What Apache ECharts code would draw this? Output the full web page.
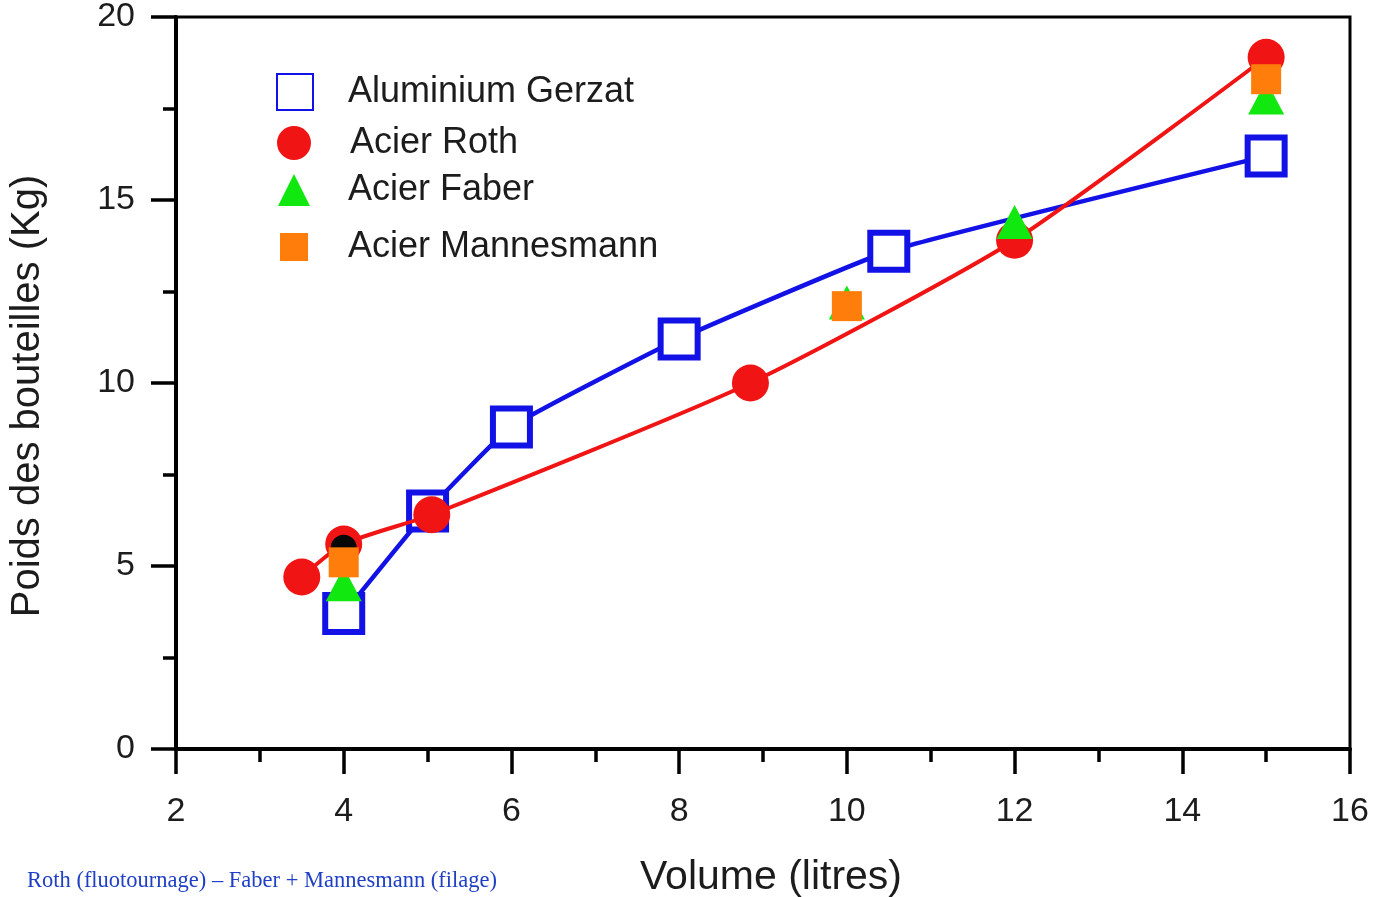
<!DOCTYPE html>
<html lang="fr">
<head>
<meta charset="utf-8">
<title>Poids des bouteilles</title>
<style>
    html, body { margin: 0; padding: 0; background: #fff; }
    #main { width: 1376px; height: 897px; }
</style>
</head>
<body>
<div id="main"></div>

<script src="https://cdn.jsdelivr.net/npm/echarts@6/dist/echarts.min.js"></script>
<script>
var seriesNames = ['Aluminium Gerzat', 'Acier Roth', 'Acier Faber', 'Acier Mannesmann'];
var aluGerzat = [[4, 3.7], [5, 6.5], [6, 8.8], [8, 11.2], [10.5, 13.6], [15, 16.2]];
var acierRoth = [[3.5, 4.7], [4, 5.6], [5.05, 6.4], [8.85, 10], [12, 13.9], [15, 18.9]];
var acierFaber = [[4, 4.5], [10, 12.2], [12, 14.4], [15, 17.8]];
var acierMannesmann = [[4, 5.1], [10, 12.1], [15, 18.3]];
var blackDot = [[4, 5.5]];

var xTicks = [2, 4, 6, 8, 10, 12, 14, 16];
var yTicks = [0, 5, 10, 15, 20];

var caption = 'Roth (fluotournage) \u2013 Faber + Mannesmann (filage)';

var myChart = echarts.init(document.getElementById('main'));

var BLUE = '#1212e6';
var RED = '#f01414';
var GREEN = '#10e810';
var ORANGE = '#ff7d0a';
var INK = '#1c1c1c';
var SANS = 'Liberation Sans, Arial, sans-serif';

// one legend per entry so each line sits where the picture has it
var legendIcons = ['rect', 'circle', 'triangle', 'rect'];
var legendSizes = [36, 34, 32, 28];
var legendCenters = [91, 142, 188, 243];
var legendTextShift = [30, 33, 31, 31];
var legends = seriesNames.map(function (name, i) {
    var s = legendSizes[i];
    return {
        data: [{ name: name, icon: legendIcons[i] }],
        left: 294 - s / 2,
        top: legendCenters[i] - s / 2,
        padding: 0,
        itemWidth: s,
        itemHeight: s,
        selectedMode: false,
        textStyle: {
            fontFamily: SANS, fontSize: 36, color: INK,
            padding: [0, 0, 0, legendTextShift[i] + (36 - s) / 2]
        }
    };
});

var axisCommon = {
    type: 'value',
    axisLine: { show: true, onZero: false, lineStyle: { color: '#000', width: 4 } },
    axisTick: { show: true, inside: false, length: 25, lineStyle: { color: '#000', width: 3.5 } },
    minorTick: { show: true, splitNumber: 2, length: 13, lineStyle: { color: '#000', width: 3.5 } },
    splitLine: { show: false },
    axisLabel: { fontFamily: SANS, fontSize: 34, color: INK },
    nameLocation: 'middle',
    nameTextStyle: { fontFamily: SANS, fontSize: 41, color: INK }
};

var option = {
    backgroundColor: '#fff',
    animation: false,
    title: {
        text: caption,
        left: 27,
        top: 870,
        padding: 0,
        textStyle: { fontFamily: 'Liberation Serif, Times New Roman, serif', fontSize: 22.5, fontWeight: 'normal', color: '#1f3fc4' }
    },
    legend: legends,
    grid: {
        left: 176, right: 26, top: 17, bottom: 148,
        outerBoundsMode: 'none',
        containLabel: false,
        show: true, borderColor: '#000', borderWidth: 3
    },
    xAxis: echarts.util.merge({
        min: xTicks[0],
        max: xTicks[xTicks.length - 1],
        interval: xTicks[1] - xTicks[0],
        name: 'Volume (litres)',
        nameGap: 108,
        axisLabel: { margin: 46 },
        nameTextStyle: { padding: [0, 0, 0, 16] }
    }, axisCommon),
    yAxis: echarts.util.merge({
        min: yTicks[0],
        max: yTicks[yTicks.length - 1],
        interval: yTicks[1] - yTicks[0],
        name: 'Poids des bouteilles (Kg)',
        nameGap: 128,
        axisLabel: { margin: 41 },
        nameTextStyle: { fontSize: 40, padding: [0, 26, 0, 0] }
    }, axisCommon),
    series: [
        {
            name: seriesNames[0],
            type: 'line',
            data: aluGerzat,
            smooth: 0.12,
            symbol: 'rect',
            symbolSize: 37,
            lineStyle: { color: BLUE, width: 4.5 },
            itemStyle: { color: '#fff', borderColor: BLUE, borderWidth: 6, opacity: 1 },
            z: 2
        },
        {
            name: seriesNames[1],
            type: 'line',
            data: acierRoth,
            smooth: 0.2,
            symbol: 'circle',
            symbolSize: 37,
            lineStyle: { color: RED, width: 4 },
            itemStyle: { color: RED, borderWidth: 0, opacity: 1 },
            z: 3
        },
        {
            name: 'noir',
            type: 'scatter',
            data: blackDot,
            symbol: 'circle',
            symbolSize: 26,
            itemStyle: { color: '#080808', opacity: 1 },
            z: 4
        },
        {
            name: seriesNames[2],
            type: 'scatter',
            data: acierFaber,
            symbol: 'triangle',
            symbolSize: [36, 34],
            itemStyle: { color: GREEN, opacity: 1 },
            z: 5
        },
        {
            name: seriesNames[3],
            type: 'scatter',
            data: acierMannesmann,
            symbol: 'rect',
            symbolSize: 30,
            itemStyle: { color: ORANGE, opacity: 1 },
            z: 6
        }
    ]
};

myChart.setOption(option);
window.addEventListener('resize', function () {
    myChart.resize();
});
</script>
</body>
</html>
